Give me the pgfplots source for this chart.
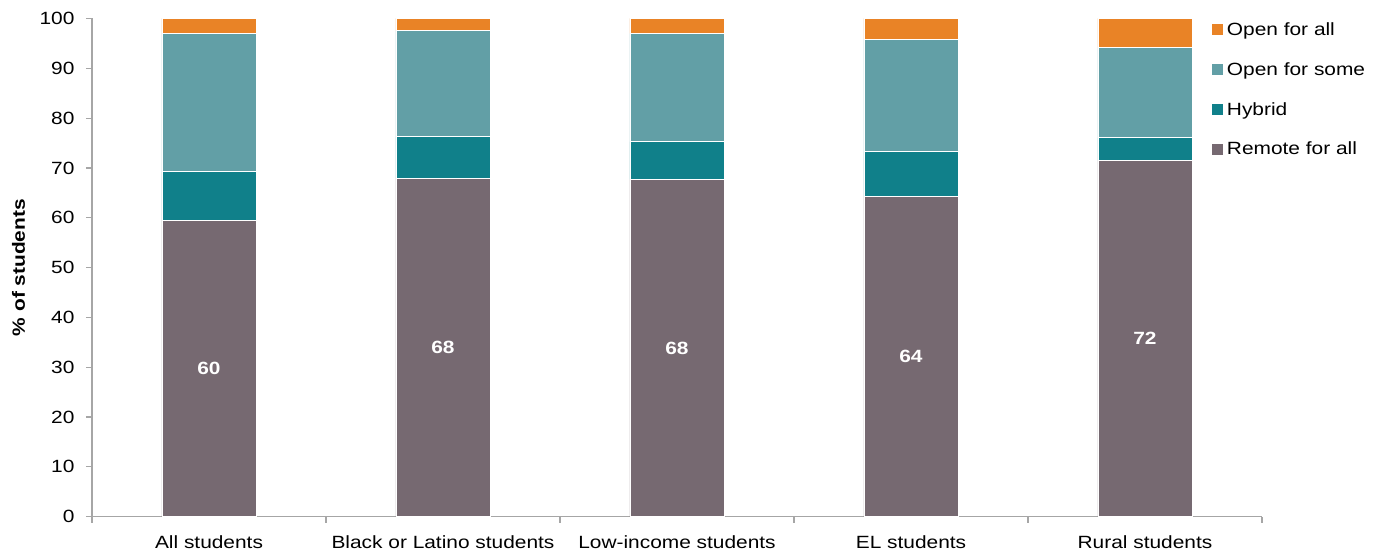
\documentclass[border=0pt]{standalone}
\usepackage{pgfplots}
\pgfplotsset{compat=1.18}
\usepackage{pgfplotstable}
\usepackage{fontspec}
\setmainfont[FakeStretch=1.18]{Liberation Sans}
\definecolor{cAll}{HTML}{E98326}
\definecolor{cSome}{HTML}{629FA6}
\definecolor{cHyb}{HTML}{10808A}
\definecolor{cRem}{HTML}{766971}
\definecolor{axgray}{HTML}{A6A6A6}
\pgfplotstableread{
x remote hybrid some all lab
0 59.5 9.75 27.75 3.0 60
1 67.9 8.4 21.25 2.45 68
2 67.7 7.6 21.7 3.0 68
3 64.3 9.0 22.5 4.2 64
4 71.5 4.6 18.1 5.8 72
}\data
\newcommand{\fs}{\fontsize{17.7}{20}\selectfont}
\begin{document}
\begin{tikzpicture}
\begin{axis}[
  scale only axis, width=1170pt, height=498.2pt,
  ybar stacked, bar width=94pt,
  xmin=-0.5, xmax=4.5, ymin=0, ymax=100,
  ytick={0,10,...,100},
  xtick={-0.5,0.5,...,4.5},
  xticklabels={All students, Black or Latino students, Low-income students, EL students, Rural students,{}},
  xticklabel style={xshift=117pt, yshift=-9pt},
  yticklabel style={xshift=-8pt},
  axis lines*=left,
  axis line style={axgray, line width=1.2pt, -},
  tick align=outside,
  major tick length=6pt,
  tick style={axgray, line width=1.2pt},
  ticklabel style={font=\fs, text=black},
  /pgf/number format/assume math mode=true,
  ylabel={\textbf{\% of students}},
  every axis y label/.style={at={(rel axis cs:0,0.5)}, xshift=-73.5pt, rotate=90, anchor=center, font=\fs},
  legend style={at={(rel axis cs:0.9545,1.0)}, anchor=north west, draw=none, fill=none, font=\fs, row sep=21.5pt,
    /tikz/every odd column/.append style={column sep=2pt}},
  legend cell align=left,
  reverse legend,
  legend image code/.code={\fill[#1,draw=none] (0pt,-5.5pt) rectangle (11pt,5.5pt);},
]
\addplot[fill=cRem, draw=white, line width=0.4pt,
  nodes near coords, point meta=explicit symbolic,
  nodes near coords style={font=\fs\bfseries, text=white, anchor=center}]
  table[x=x, y=remote, meta=lab]{\data};
\addlegendentry{Remote for all}
\addplot[fill=cHyb, draw=white, line width=0.4pt] table[x=x, y=hybrid]{\data};
\addlegendentry{Hybrid}
\addplot[fill=cSome, draw=white, line width=0.4pt] table[x=x, y=some]{\data};
\addlegendentry{Open for some}
\addplot[fill=cAll, draw=white, line width=0.4pt] table[x=x, y=all]{\data};
\addlegendentry{Open for all}
\coordinate (O) at (rel axis cs:0,0);
\end{axis}
\pgfresetboundingbox
\path (O) ++(-92pt,-39.3pt) rectangle ++(1383pt,556pt);
\end{tikzpicture}
\end{document}
